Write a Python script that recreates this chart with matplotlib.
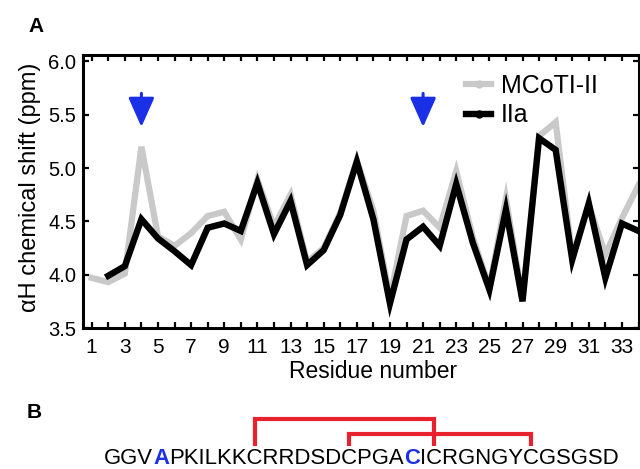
import matplotlib
matplotlib.use("Agg")
import matplotlib.pyplot as plt
from matplotlib.lines import Line2D
from matplotlib import font_manager
from matplotlib.font_manager import FontProperties
from matplotlib import ft2font
import numpy as np

# ---------------- data ----------------
residues_mcoti = list(range(1, 35))
mcoti = [3.97, 3.93, 4.01, 5.20, 4.36, 4.27, 4.39, 4.55, 4.59, 4.33,
         4.89, 4.45, 4.75, 4.12, 4.25, 4.58, 5.07, 4.60, 3.78, 4.55,
         4.60, 4.44, 4.97, 4.35, 3.88, 4.71, 3.77, 5.30, 5.43, 4.17,
         4.65, 4.19, 4.53, 4.84]
residues_iia = list(range(2, 35))
iia = [3.99, 4.08, 4.52, 4.34, 4.22, 4.09, 4.44, 4.48, 4.41,
       4.86, 4.38, 4.69, 4.09, 4.23, 4.56, 5.06, 4.52, 3.73, 4.33,
       4.45, 4.27, 4.85, 4.30, 3.86, 4.61, 3.75, 5.28, 5.17, 4.14,
       4.67, 3.97, 4.48, 4.41]
series_labels = ["MCoTI-II", "IIa"]
arrow_residues = [4, 21]
xtick_labels = [str(i) for i in range(1, 35, 2)]
yticks = [3.5, 4.0, 4.5, 5.0, 5.5, 6.0]

sequence = "GGVAPKILKKCRRDSDCPGACICRGNGYCGSGSD"
blue_positions = [4, 21]           # 1-based
disulfides = [(11, 23), (17, 29)]  # 1-based cysteine pairs

# ---------------- style ----------------
GRAY = "#c9c9c9"
BLUE = "#1a30e6"
RED = "#e8212d"
W, H = 640, 469
DPI = 100
plt.rcParams['font.family'] = ['Liberation Sans', 'DejaVu Sans']

fig = plt.figure(figsize=(W / DPI, H / DPI), dpi=DPI)
ax = fig.add_axes([83.4 / W, 1 - 328 / H, (638.5 - 83.4) / W, (328 - 55) / H])

ax.plot(residues_mcoti, mcoti, color=GRAY, lw=4.5, solid_joinstyle='miter', zorder=2)
ax.plot(residues_iia, iia, color='black', lw=4.6, solid_joinstyle='miter', zorder=3)

ax.set_xlim(0.5, 34.0)
ax.set_ylim(3.5, 6.06)
ax.set_xticks(range(1, 35, 2))
ax.set_xticklabels(xtick_labels)
ax.set_xticks(range(2, 35, 2), minor=True)
ax.set_yticks(yticks)
ax.set_yticklabels([f"{v:.1f}" for v in yticks])
ax.tick_params(which='both', direction='in', top=True, right=True,
               length=4.5, width=1.6)
ax.tick_params(axis='x', which='major', labelsize=15, pad=7)
ax.tick_params(axis='y', which='major', labelsize=14.5, pad=5)
for sp in ax.spines.values():
    sp.set_linewidth(2.2)

# arrows marking mutated residues
for r in arrow_residues:
    ax.annotate('', xy=(r, 5.385), xytext=(r, 5.70),
                arrowprops=dict(arrowstyle='-|>,head_width=0.4,head_length=0.9',
                                color=BLUE, lw=2.2, shrinkA=0, shrinkB=0,
                                mutation_scale=20), zorder=4)

# legend
handles = [Line2D([], [], color=GRAY, lw=4.5, marker='o', ms=5),
           Line2D([], [], color='black', lw=4.6, marker='o', ms=5)]
fig.legend(handles, series_labels, loc='upper left',
           bbox_to_anchor=(466 / W, 1 - 74 / H), bbox_transform=fig.transFigure,
           frameon=False, fontsize=18, borderpad=0, borderaxespad=0,
           handlelength=1.0, handletextpad=0.4, labelspacing=0.22, numpoints=1)

# axis labels
fig.text(373 / W, 1 - 378 / H, "Residue number", ha='center', va='baseline',
         fontsize=16.5)
fig.text(36 / W, 1 - 187 / H, "\u03b1H chemical shift (ppm)", ha='center',
         va='baseline', rotation=90, rotation_mode='anchor', fontsize=17)

# panel labels
fig.text(28 / W, 1 - 32 / H, "A", fontsize=15, fontweight='bold', va='baseline')
fig.text(27 / W, 1 - 418 / H, "B", fontsize=15, fontweight='bold', va='baseline')

# ---------------- sequence panel ----------------
seq_size = 15.9
x0_px, base_px = 104.0, 464.0
KERN = getattr(ft2font, 'Kerning', None)
KERN = KERN.DEFAULT if KERN is not None else ft2font.KERNING_DEFAULT

fonts = {}
for wgt in ('normal', 'bold'):
    path = font_manager.findfont(FontProperties(family='Liberation Sans', weight=wgt))
    f = ft2font.FT2Font(path)
    f.set_size(seq_size, DPI)
    fonts[wgt] = f


def weight_of(i):
    return 'bold' if (i + 1) in blue_positions else 'normal'


# pen positions (advance widths + kerning within same weight)
pens, advs = [], []
pen = 0.0
for i, ch in enumerate(sequence):
    f = fonts[weight_of(i)]
    if i > 0 and weight_of(i - 1) == weight_of(i):
        k = f.get_kerning(f.get_char_index(ord(sequence[i - 1])),
                          f.get_char_index(ord(ch)), KERN) / 64.0
        pen += k
    g = f.load_char(ord(ch))
    adv = g.linearHoriAdvance / 65536.0
    pens.append(pen)
    advs.append(adv)
    pen += adv

# runs of same colour
runs = []
for i, ch in enumerate(sequence):
    col = BLUE if (i + 1) in blue_positions else 'black'
    if runs and runs[-1][1] == col:
        runs[-1][2] += ch
    else:
        runs.append([i, col, ch])
for start, col, txt in runs:
    fig.text((x0_px + pens[start]) / W, 1 - base_px / H, txt, color=col,
             va='baseline', fontsize=seq_size, fontweight=weight_of(start))

centers = [x0_px + p + a / 2 for p, a in zip(pens, advs)]

levels = [419, 434]
bottom_px = 446
for (a, b), lev in zip(disulfides, levels):
    xa, xb = centers[a - 1], centers[b - 1]
    xs = [xa / W, xa / W, xb / W, xb / W]
    ys = [1 - bottom_px / H, 1 - lev / H, 1 - lev / H, 1 - bottom_px / H]
    fig.add_artist(Line2D(xs, ys, color=RED, lw=3.0, solid_joinstyle='miter',
                          solid_capstyle='butt', transform=fig.transFigure))

fig.savefig("out.png", dpi=DPI)
